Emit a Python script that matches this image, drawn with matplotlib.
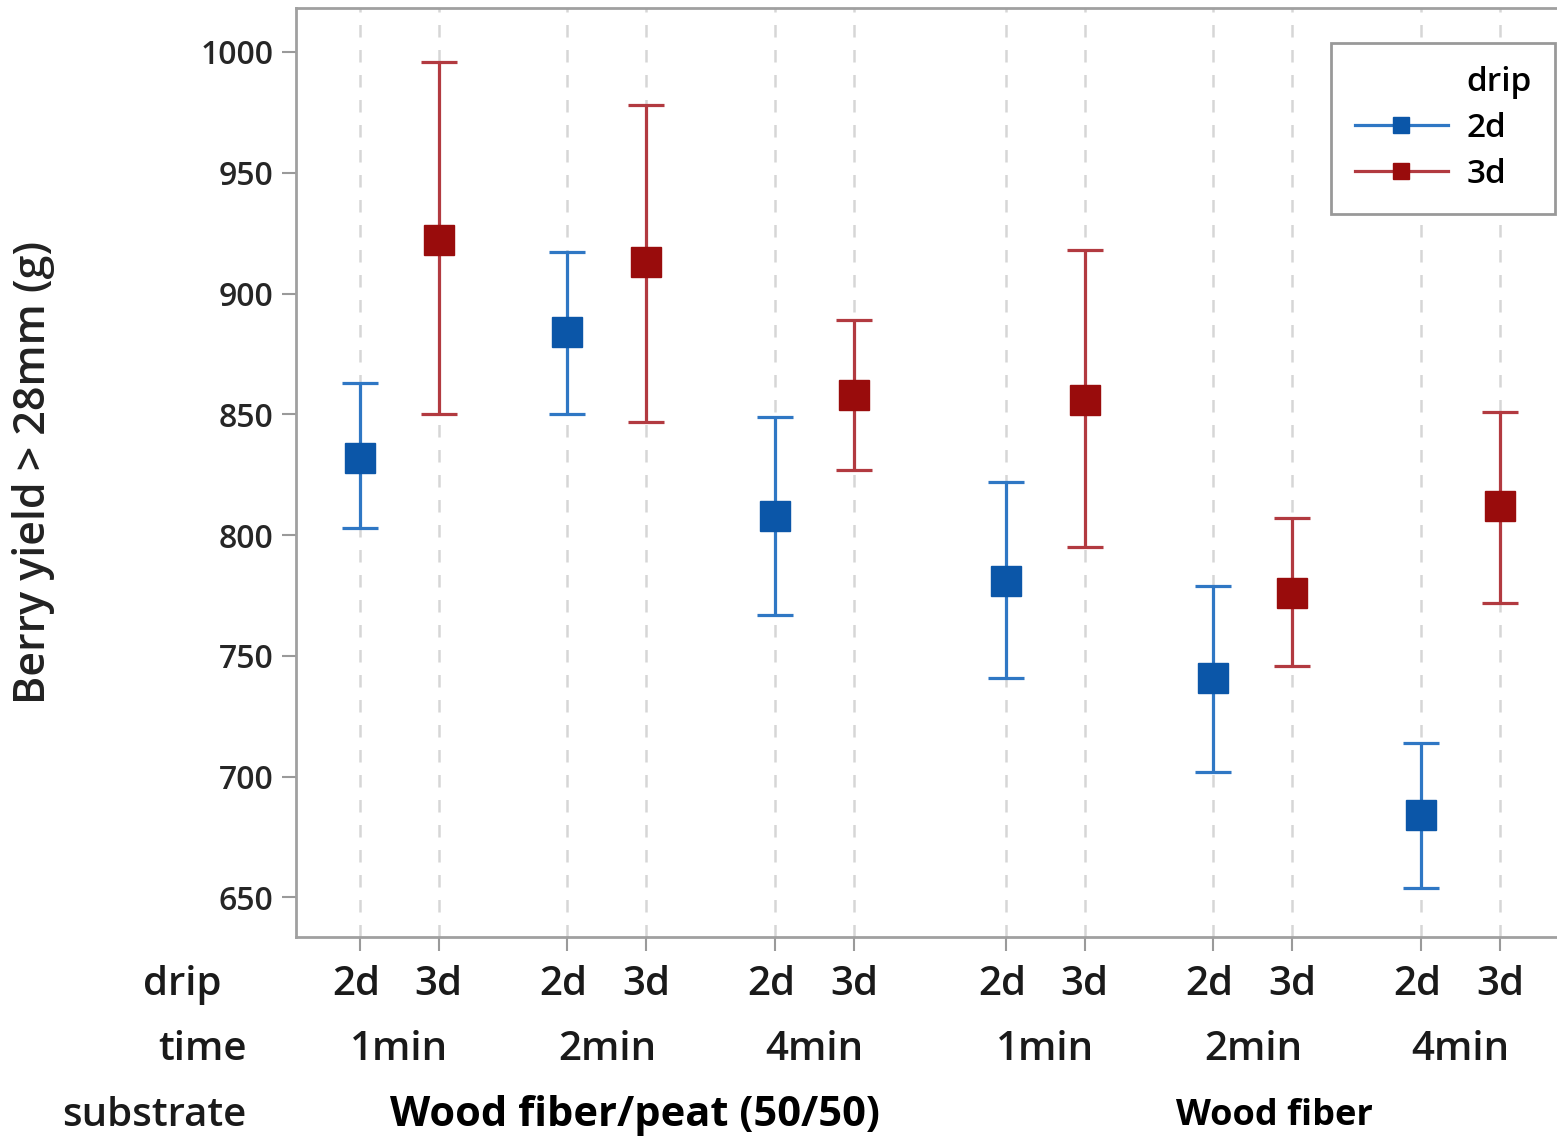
import matplotlib
matplotlib.use("Agg")
import matplotlib.pyplot as plt
import matplotlib.transforms as mtrans
from matplotlib.lines import Line2D
import numpy as np

# data
substrates = ["Wood fiber/peat (50/50)", "Wood fiber"]
times = ["1min", "2min", "4min"]
drips = ["2d", "3d"]

mean_2d = [832, 884, 808, 781, 741, 684]
lo_2d = [803, 850, 767, 741, 702, 654]
hi_2d = [863, 917, 849, 822, 779, 714]

mean_3d = [922, 913, 858, 856, 776, 812]
lo_3d = [850, 847, 827, 795, 746, 772]
hi_3d = [996, 978, 889, 918, 807, 851]

yticks = [650, 700, 750, 800, 850, 900, 950, 1000]

# colours
blue_m, blue_l = "#0b56a8", "#2f77c4"
red_m, red_l = "#990c0c", "#b23a40"

fig = plt.figure(figsize=(15.57, 11.45), dpi=100)
ax = fig.add_axes([0.190, 0.182, 0.812, 0.811])

# x layout: pairs of drip levels grouped by time, groups by substrate
pair_step = 2.63
sub_extra = 0.29
x2, x3 = [], []
for s in range(len(substrates)):
    for t in range(len(times)):
        g = s * len(times) + t
        left = g * pair_step + s * sub_extra
        x2.append(left)
        x3.append(left + 1)
x2 = np.array(x2)
x3 = np.array(x3)

m2, m3 = np.array(mean_2d), np.array(mean_3d)
ax.errorbar(x2, m2, yerr=[m2 - np.array(lo_2d), np.array(hi_2d) - m2], fmt="s",
            ms=21, mfc=blue_m, mec=blue_m, ecolor=blue_l, elinewidth=2.3,
            capsize=13, capthick=2.3, zorder=3)
ax.errorbar(x3, m3, yerr=[m3 - np.array(lo_3d), np.array(hi_3d) - m3], fmt="s",
            ms=21, mfc=red_m, mec=red_m, ecolor=red_l, elinewidth=2.3,
            capsize=13, capthick=2.3, zorder=3)

allx = np.sort(np.concatenate([x2, x3]))
for xv in allx:
    ax.axvline(xv, color="#d6d6d6", lw=1.8, ls=(0, (5, 5)), zorder=1)

ax.set_xlim(-0.81, 15.2)
ax.set_ylim(633.8, 1018.2)
ax.set_xticks(allx)
ax.set_xticklabels([])
ax.set_yticks(yticks)
ax.set_yticklabels([str(v) for v in yticks], fontsize=23, color="#262626",
                   family="Open Sans", fontweight="semibold")
ax.tick_params(axis="both", length=10, width=1.5, color="#9a9a9a", pad=6)

for side in ["left", "bottom", "top"]:
    ax.spines[side].set_color("#a0a0a0")
    ax.spines[side].set_linewidth(2)
ax.spines["right"].set_visible(False)

ax.set_ylabel("Berry yield > 28mm (g)", fontsize=31, family="Open Sans",
              fontweight="semibold", color="#222222", labelpad=105)

# categorical labels under the axis
tr = mtrans.blended_transform_factory(ax.transData, fig.transFigure)
row_drip, row_time, row_sub = 1 - 985 / 1145, 1 - 1050 / 1145, 1 - 1116 / 1145
lab_font = dict(family="Open Sans", fontsize=29, fontweight="semibold",
                color="#1a1a1a", va="center")

for xv in x2:
    ax.text(xv - 0.05, row_drip, drips[0], transform=tr, ha="center", **lab_font)
for xv in x3:
    ax.text(xv, row_drip, drips[1], transform=tr, ha="center", **lab_font)
for i in range(len(x2)):
    ax.text((x2[i] + x3[i]) / 2, row_time, times[i % 3], transform=tr,
            ha="center", **lab_font)

sub_centers = [(x2[0] + x3[2]) / 2 + 0.35, (x2[3] + x3[5]) / 2 + 0.27]
ax.text(sub_centers[0], row_sub, substrates[0], transform=tr, ha="center",
        va="center", family="Open Sans", fontweight="bold", fontsize=30, color="black")
ax.text(sub_centers[1], row_sub, substrates[1], transform=tr, ha="center",
        va="center", family="Open Sans", fontweight="bold", fontsize=26, color="black")

fig.text(222 / 1557, row_drip, "drip", ha="right", **lab_font)
fig.text(247 / 1557, row_time, "time", ha="right", **lab_font)
fig.text(247 / 1557, row_sub, "substrate", ha="right", **lab_font)

# legend with the title aligned to the labels
handles = [
    Line2D([], [], color="none"),
    Line2D([], [], color=blue_l, lw=2.3, marker="s", ms=12, mfc=blue_m, mec=blue_m),
    Line2D([], [], color=red_l, lw=2.3, marker="s", ms=12, mfc=red_m, mec=red_m),
]
leg = ax.legend(handles, ["drip"] + drips, loc="upper right",
                bbox_to_anchor=(1555 / 1557, 1 - 43 / 1145),
                bbox_transform=fig.transFigure, borderaxespad=0, fancybox=False,
                framealpha=1, edgecolor="#999999", handlelength=2.8,
                handletextpad=0.55, borderpad=0.7, labelspacing=0.38,
                prop=dict(family="Open Sans", size=24, weight="semibold"))
leg.get_frame().set_linewidth(2)

fig.savefig("out.png", dpi=100)
